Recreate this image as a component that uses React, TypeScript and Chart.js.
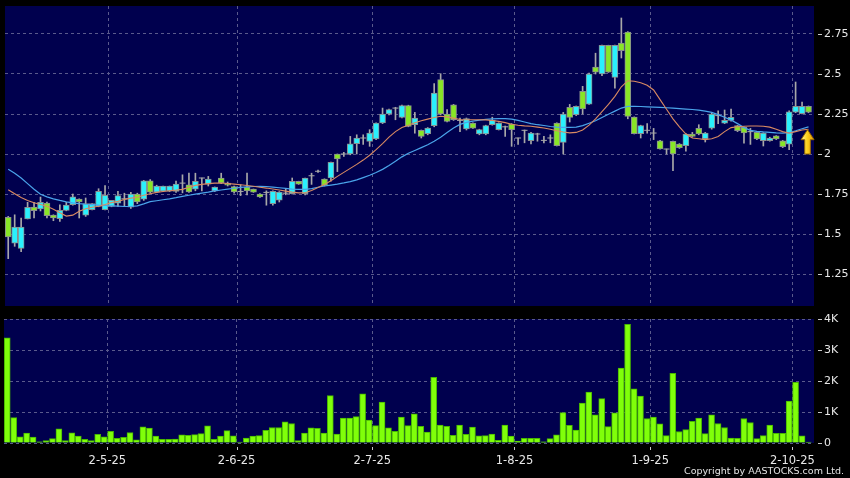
import React, { useEffect, useRef } from 'react';
import { Chart, registerables } from 'chart.js';

Chart.register(...registerables);

// ---------- data ----------
const monthLabels = ['2-5-25', '2-6-25', '2-7-25', '1-8-25', '1-9-25', '2-10-25'];
const monthStartIdx = [16, 36, 57, 79, 100, 122];
const priceTicks = [1.25, 1.5, 1.75, 2, 2.25, 2.5, 2.75];
const volumeTicks = [0, 1000, 2000, 3000, 4000];
const volumeTickLabels = ['0', '1K', '2K', '3K', '4K'];

const open = [
  1.604, 1.442, 1.41, 1.594, 1.669, 1.656, 1.694, 1.619, 1.596, 1.648,
  1.683, 1.719, 1.617, 1.652, 1.673, 1.652, 1.673, 1.692, 1.72, 1.668,
  1.75, 1.718, 1.833, 1.762, 1.768, 1.768, 1.766, 1.818, 1.808, 1.78,
  1.85, 1.812, 1.769, 1.85, 1.818, 1.796, 1.766, 1.794, 1.781, 1.75,
  1.76, 1.69, 1.712, 1.755, 1.752, 1.829, 1.752, 1.864, 1.892, 1.844,
  1.85, 2.0, 2.0, 2.0, 2.064, 2.1, 2.079, 2.094, 2.194, 2.25,
  2.287, 2.229, 2.302, 2.183, 2.148, 2.127, 2.177, 2.465, 2.25, 2.308,
  2.21, 2.156, 2.194, 2.125, 2.125, 2.183, 2.152, 2.17, 2.187, 2.1,
  2.148, 2.083, 2.125, 2.085, 2.1, 2.194, 2.073, 2.292, 2.246, 2.392,
  2.312, 2.544, 2.5, 2.679, 2.479, 2.694, 2.762, 2.231, 2.127, 2.148,
  2.131, 2.083, 2.031, 2.079, 2.062, 2.052, 2.125, 2.16, 2.096, 2.162,
  2.24, 2.193, 2.21, 2.177, 2.166, 2.14, 2.135, 2.083, 2.083, 2.114,
  2.083, 2.062, 2.262, 2.252, 2.298,
];
const close = [
  1.481, 1.544, 1.544, 1.667, 1.646, 1.698, 1.615, 1.6, 1.648, 1.681,
  1.733, 1.7, 1.69, 1.69, 1.767, 1.742, 1.71, 1.74, 1.72, 1.75,
  1.7, 1.833, 1.762, 1.8, 1.8, 1.8, 1.812, 1.818, 1.763, 1.829,
  1.85, 1.844, 1.794, 1.819, 1.805, 1.763, 1.766, 1.77, 1.762, 1.731,
  1.76, 1.767, 1.762, 1.755, 1.829, 1.812, 1.85, 1.864, 1.892, 1.804,
  1.948, 1.969, 2.0, 2.064, 2.1, 2.1, 2.131, 2.194, 2.25, 2.277,
  2.287, 2.302, 2.173, 2.225, 2.11, 2.162, 2.381, 2.25, 2.204, 2.214,
  2.21, 2.221, 2.162, 2.152, 2.177, 2.21, 2.194, 2.17, 2.152, 2.1,
  2.148, 2.131, 2.125, 2.085, 2.1, 2.052, 2.25, 2.229, 2.298, 2.281,
  2.5, 2.512, 2.679, 2.512, 2.679, 2.646, 2.235, 2.127, 2.177, 2.148,
  2.131, 2.031, 2.031, 2.0, 2.04, 2.125, 2.11, 2.125, 2.131, 2.25,
  2.24, 2.21, 2.229, 2.146, 2.131, 2.14, 2.094, 2.131, 2.1, 2.094,
  2.046, 2.264, 2.298, 2.298, 2.262,
];
const high = [
  1.61, 1.62, 1.6, 1.698, 1.698, 1.731, 1.7, 1.62, 1.683, 1.698,
  1.75, 1.72, 1.725, 1.69, 1.783, 1.802, 1.71, 1.767, 1.755, 1.76,
  1.755, 1.835, 1.84, 1.805, 1.8, 1.8, 1.83, 1.87, 1.88, 1.88,
  1.85, 1.86, 1.794, 1.88, 1.825, 1.8, 1.808, 1.88, 1.781, 1.752,
  1.77, 1.77, 1.765, 1.78, 1.85, 1.83, 1.85, 1.88, 1.9, 1.845,
  1.95, 2.0, 2.01, 2.11, 2.12, 2.12, 2.152, 2.195, 2.287, 2.28,
  2.292, 2.305, 2.305, 2.26, 2.15, 2.165, 2.44, 2.502, 2.277, 2.31,
  2.225, 2.225, 2.195, 2.155, 2.18, 2.23, 2.195, 2.175, 2.19, 2.1,
  2.15, 2.135, 2.13, 2.11, 2.12, 2.195, 2.26, 2.31, 2.3, 2.423,
  2.505, 2.63, 2.68, 2.68, 2.68, 2.85, 2.765, 2.232, 2.18, 2.19,
  2.16, 2.085, 2.031, 2.08, 2.065, 2.128, 2.135, 2.183, 2.135, 2.255,
  2.27, 2.275, 2.28, 2.18, 2.17, 2.16, 2.14, 2.133, 2.105, 2.115,
  2.085, 2.27, 2.45, 2.325, 2.3,
];
const low = [
  1.346, 1.423, 1.39, 1.594, 1.6, 1.644, 1.6, 1.583, 1.579, 1.645,
  1.68, 1.6, 1.61, 1.65, 1.67, 1.65, 1.67, 1.672, 1.672, 1.66,
  1.69, 1.71, 1.755, 1.76, 1.765, 1.765, 1.76, 1.757, 1.76, 1.77,
  1.77, 1.8, 1.765, 1.815, 1.8, 1.755, 1.74, 1.745, 1.76, 1.728,
  1.68, 1.68, 1.7, 1.745, 1.75, 1.81, 1.745, 1.81, 1.885, 1.8,
  1.83, 1.89, 1.985, 1.995, 2.0, 2.06, 2.048, 2.09, 2.19, 2.245,
  2.214, 2.225, 2.17, 2.13, 2.1, 2.12, 2.17, 2.245, 2.2, 2.21,
  2.14, 2.15, 2.16, 2.12, 2.12, 2.18, 2.15, 2.11, 2.048, 2.06,
  2.07, 2.063, 2.08, 2.07, 2.07, 2.05, 2.0, 2.2, 2.24, 2.25,
  2.31, 2.5, 2.49, 2.51, 2.412, 2.6, 2.22, 2.125, 2.1, 2.13,
  2.09, 2.03, 2.0, 1.896, 2.035, 2.017, 2.105, 2.12, 2.075, 2.155,
  2.19, 2.19, 2.205, 2.14, 2.068, 2.06, 2.09, 2.05, 2.08, 2.09,
  2.04, 2.027, 2.258, 2.25, 2.258,
];
const volume = [
  3390, 820, 200, 320, 190, 40, 80, 140, 460, 80,
  330, 220, 120, 80, 280, 200, 380, 150, 180, 340,
  100, 520, 480, 220, 120, 120, 130, 260, 250, 270,
  300, 550, 120, 220, 400, 230, 30, 160, 220, 240,
  410, 500, 500, 680, 630, 80, 320, 490, 470, 320,
  1530, 290, 800, 800, 850, 1590, 740, 560, 1320, 490,
  380, 840, 560, 940, 540, 350, 2120, 580, 540, 250,
  580, 280, 510, 230, 240, 290, 90, 580, 220, 60,
  150, 150, 150, 40, 140, 260, 980, 570, 420, 1290,
  1640, 910, 1430, 530, 970, 2420, 3830, 1750, 1510, 790,
  840, 620, 240, 2250, 370, 430, 700, 800, 300, 910,
  630, 500, 160, 150, 790, 660, 140, 240, 580, 310,
  310, 1350, 1960, 230, 30,
];
const maShort = [
  1.777, 1.752, 1.728, 1.71, 1.695, 1.684, 1.673, 1.655, 1.633, 1.612,
  1.618, 1.642, 1.658, 1.667, 1.673, 1.684, 1.696, 1.704, 1.716, 1.724,
  1.73, 1.742, 1.752, 1.76, 1.766, 1.77, 1.774, 1.779, 1.792, 1.804,
  1.81, 1.815, 1.818, 1.819, 1.816, 1.812, 1.808, 1.803, 1.798, 1.792,
  1.787, 1.781, 1.775, 1.768, 1.762, 1.757, 1.758, 1.772, 1.79, 1.81,
  1.833, 1.86, 1.885, 1.91, 1.935, 1.962, 1.992, 2.027, 2.065, 2.105,
  2.14, 2.165, 2.18, 2.195, 2.208, 2.218, 2.228, 2.236, 2.232, 2.224,
  2.216, 2.214, 2.214, 2.214, 2.213, 2.209, 2.204, 2.196, 2.186, 2.18,
  2.176, 2.173, 2.168, 2.162, 2.155, 2.145, 2.138, 2.132, 2.135, 2.15,
  2.18, 2.22, 2.265, 2.31, 2.36, 2.42, 2.458, 2.455, 2.445, 2.43,
  2.4, 2.34, 2.28, 2.22, 2.17, 2.125, 2.1, 2.095, 2.09, 2.095,
  2.11, 2.14, 2.165, 2.17, 2.173, 2.175, 2.175, 2.173, 2.168, 2.155,
  2.14, 2.13, 2.14, 2.15, 2.155,
];
const maLong = [
  1.905, 1.88, 1.85, 1.815, 1.78, 1.748, 1.732, 1.72, 1.71, 1.701,
  1.695, 1.69, 1.686, 1.683, 1.68, 1.678, 1.676, 1.674, 1.672, 1.672,
  1.676, 1.688, 1.702, 1.708, 1.714, 1.72, 1.727, 1.735, 1.742, 1.749,
  1.756, 1.762, 1.769, 1.775, 1.781, 1.786, 1.791, 1.795, 1.797, 1.798,
  1.797, 1.793, 1.789, 1.785, 1.781, 1.779, 1.779, 1.784, 1.792, 1.8,
  1.806, 1.812, 1.819, 1.827, 1.838, 1.852, 1.867, 1.884, 1.904, 1.928,
  1.954, 1.982, 2.005, 2.022, 2.04, 2.058, 2.08, 2.105, 2.135, 2.163,
  2.185, 2.198, 2.206, 2.212, 2.216, 2.219, 2.221, 2.221, 2.218, 2.21,
  2.2, 2.19, 2.183, 2.178, 2.172, 2.168, 2.166, 2.166, 2.168, 2.177,
  2.192, 2.208, 2.228, 2.248, 2.268, 2.287, 2.298, 2.298, 2.297, 2.295,
  2.293, 2.291, 2.289, 2.287, 2.284, 2.281, 2.278, 2.274, 2.268, 2.26,
  2.246, 2.23, 2.212, 2.19, 2.165, 2.148, 2.142, 2.138, 2.135, 2.132,
  2.131, 2.133, 2.145, 2.158, 2.17,
];
const arrowMark = { index: 123.85, top: 2.152, bottom: 2.0 };

// ---------- styles ----------
const NAVY = '#00004e';
const GRID = '#5a5a8c';
const TEXT = '#e8e8e8';
const UP = '#2af0fd';
const DOWN = '#88e626';
const BODY_BORDER = '#8a8f8f';
const WICK = '#a8a8a8';
const VOL_FILL = '#80ff0a';
const VOL_BORDER = '#48b800';
const MA_SHORT = '#d98a62';
const MA_LONG = '#4aa4ea';
const FONT = '"DejaVu Sans", Verdana, sans-serif';

const X_MIN = -0.5;
const X_MAX = 124.85;

const zeroPad = (s: any) => {
  s.paddingTop = 0;
  s.paddingBottom = 0;
  s.paddingLeft = 0;
  s.paddingRight = 0;
};

const panelBg = {
  id: 'panelBg',
  beforeDraw(chart: any) {
    const { ctx, chartArea: a } = chart;
    ctx.save();
    ctx.fillStyle = NAVY;
    ctx.fillRect(a.left, a.top, a.right - a.left, a.bottom - a.top);
    ctx.restore();
  },
};

const outerTicks = {
  id: 'outerTicks',
  defaults: { xTicks: false },
  afterDraw(chart: any, _args: any, opts: any) {
    const { ctx, chartArea: a } = chart;
    const y = chart.scales.y;
    ctx.save();
    ctx.strokeStyle = '#c8c8c8';
    ctx.lineWidth = 1;
    y.ticks.forEach((t: any) => {
      const py = Math.round(y.getPixelForValue(t.value)) + 0.5;
      ctx.beginPath();
      ctx.moveTo(a.right + 4, py);
      ctx.lineTo(a.right + 8, py);
      ctx.stroke();
    });
    if (opts && opts.xTicks) {
      const x = chart.scales.x;
      x.ticks.forEach((t: any) => {
        const px = Math.round(x.getPixelForValue(t.value)) + 0.5;
        ctx.beginPath();
        ctx.moveTo(px, a.bottom + 4);
        ctx.lineTo(px, a.bottom + 7);
        ctx.stroke();
      });
    }
    ctx.restore();
  },
};

const arrowPlugin = {
  id: 'arrowMark',
  afterDatasetsDraw(chart: any) {
    const { ctx } = chart;
    const x = chart.scales.x;
    const y = chart.scales.y;
    const cx = x.getPixelForValue(arrowMark.index);
    const top = y.getPixelForValue(arrowMark.top);
    const bot = y.getPixelForValue(arrowMark.bottom);
    const hw = 6.5;
    const sw = 2.8;
    const hh = 10;
    ctx.save();
    const g = ctx.createLinearGradient(cx - hw, 0, cx + hw, 0);
    g.addColorStop(0, '#fff4a0');
    g.addColorStop(0.45, '#ffd21e');
    g.addColorStop(1, '#e49a00');
    ctx.beginPath();
    ctx.moveTo(cx, top);
    ctx.lineTo(cx + hw, top + hh);
    ctx.lineTo(cx + sw, top + hh);
    ctx.lineTo(cx + sw, bot);
    ctx.lineTo(cx - sw, bot);
    ctx.lineTo(cx - sw, top + hh);
    ctx.lineTo(cx - hw, top + hh);
    ctx.closePath();
    ctx.fillStyle = g;
    ctx.fill();
    ctx.strokeStyle = '#9a6a00';
    ctx.lineWidth = 1;
    ctx.stroke();
    ctx.restore();
  },
};

const monthTickValues = monthStartIdx.map((i) => i - 0.5);

function xScale(showLabels: boolean, height: number): any {
  return {
    type: 'linear',
    min: X_MIN,
    max: X_MAX,
    offset: false,
    afterBuildTicks: (s: any) => {
      s.ticks = monthTickValues.map((v) => ({ value: v }));
    },
    afterFit: (s: any) => {
      s.height = height;
      zeroPad(s);
    },
    ticks: {
      display: showLabels,
      color: TEXT,
      font: { family: FONT, size: 11.5 },
      padding: 11,
      maxRotation: 0,
      autoSkip: false,
      callback: (_v: any, i: number) => monthLabels[i],
    },
    grid: { color: GRID, drawTicks: false, lineWidth: 1, offset: false },
    border: { display: false, dash: [3, 3] },
  };
}

function buildPriceConfig(): any {
  const idx = open.map((_, i) => i);
  const wickData = idx.map((i) => ({ x: i, y: [low[i], high[i]] }));
  const bodyData = idx.map((i) => ({ x: i, y: [open[i], close[i]] }));
  const bodyColors = idx.map((i) =>
    close[i] > open[i] ? UP : close[i] < open[i] ? DOWN : 'rgba(0,0,0,0)'
  );
  const bodyBorders = idx.map((i) => (close[i] === open[i] ? 'rgba(0,0,0,0)' : BODY_BORDER));
  const dojiData = idx.filter((i) => open[i] === close[i]).map((i) => ({ x: i, y: close[i] }));

  return {
    type: 'bar',
    data: {
      datasets: [
        {
          type: 'line',
          data: idx.map((i) => ({ x: i, y: maShort[i] })),
          borderColor: MA_SHORT,
          borderWidth: 1.1,
          pointRadius: 0,
          tension: 0,
          order: 0,
        },
        {
          type: 'line',
          data: idx.map((i) => ({ x: i, y: maLong[i] })),
          borderColor: MA_LONG,
          borderWidth: 1.2,
          pointRadius: 0,
          tension: 0,
          order: 0,
        },
        {
          type: 'line',
          data: dojiData,
          showLine: false,
          pointStyle: 'line',
          pointRadius: 3,
          borderColor: WICK,
          borderWidth: 1,
          order: 1,
        },
        {
          type: 'bar',
          data: bodyData,
          backgroundColor: bodyColors,
          borderColor: bodyBorders,
          borderWidth: 1,
          borderSkipped: false,
          barThickness: 6,
          grouped: false,
          order: 2,
        },
        {
          type: 'bar',
          data: wickData,
          backgroundColor: WICK,
          borderWidth: 0,
          barThickness: 1,
          grouped: false,
          order: 3,
        },
      ],
    },
    options: {
      responsive: false,
      animation: false,
      events: [],
      layout: { padding: { left: 4, top: 6, right: 0, bottom: 6 } },
      plugins: { legend: { display: false }, tooltip: { enabled: false } },
      scales: {
        x: xScale(false, 0),
        y: {
          position: 'right',
          min: 1.05,
          max: 2.925,
          afterBuildTicks: (s: any) => {
            s.ticks = priceTicks.map((v) => ({ value: v }));
          },
          afterFit: (s: any) => {
            s.width = 36;
            zeroPad(s);
          },
          ticks: {
            color: TEXT,
            font: { family: FONT, size: 11 },
            padding: 10,
            callback: (v: any) => String(v),
          },
          grid: { color: GRID, drawTicks: false, lineWidth: 1 },
          border: { display: false, dash: [3, 3] },
        },
      },
    },
    plugins: [panelBg, outerTicks, arrowPlugin],
  };
}

function buildVolumeConfig(): any {
  const idx = volume.map((_, i) => i);
  return {
    type: 'bar',
    data: {
      datasets: [
        {
          data: idx.map((i) => ({ x: i, y: volume[i] })),
          backgroundColor: VOL_FILL,
          borderColor: VOL_BORDER,
          borderWidth: 1,
          borderSkipped: 'start',
          barThickness: 6,
        },
      ],
    },
    options: {
      responsive: false,
      animation: false,
      events: [],
      layout: { padding: { left: 4, top: 6, right: 0, bottom: 0 } },
      plugins: { legend: { display: false }, tooltip: { enabled: false }, outerTicks: { xTicks: true } },
      scales: {
        x: xScale(true, 35),
        y: {
          position: 'right',
          min: 0,
          max: 4000,
          afterBuildTicks: (s: any) => {
            s.ticks = volumeTicks.map((v) => ({ value: v }));
          },
          afterFit: (s: any) => {
            s.width = 36;
            zeroPad(s);
          },
          ticks: {
            color: TEXT,
            font: { family: FONT, size: 11 },
            padding: 10,
            callback: (v: any) => volumeTickLabels[volumeTicks.indexOf(v)],
          },
          grid: { color: GRID, drawTicks: false, lineWidth: 1 },
          border: { display: false, dash: [3, 3] },
        },
      },
    },
    plugins: [panelBg, outerTicks],
  };
}

export default function App() {
  const priceRef = useRef<HTMLCanvasElement | null>(null);
  const volRef = useRef<HTMLCanvasElement | null>(null);

  useEffect(() => {
    document.body.style.margin = '0';
    document.body.style.background = '#000';
    const c1 = new Chart(priceRef.current as HTMLCanvasElement, buildPriceConfig());
    const c2 = new Chart(volRef.current as HTMLCanvasElement, buildVolumeConfig());
    return () => {
      c1.destroy();
      c2.destroy();
    };
  }, []);

  return (
    <div style={{ position: 'relative', width: 850, height: 478, background: '#000', overflow: 'hidden' }}>
      <canvas
        ref={priceRef}
        width={850}
        height={312}
        style={{ position: 'absolute', left: 0, top: 0, display: 'block' }}
      />
      <canvas
        ref={volRef}
        width={850}
        height={165}
        style={{ position: 'absolute', left: 0, top: 313, display: 'block' }}
      />
      <div
        style={{
          position: 'absolute',
          right: 6,
          top: 465,
          color: '#e4e4e4',
          font: '9.5px "DejaVu Sans", Verdana, sans-serif',
          lineHeight: '11px',
          whiteSpace: 'nowrap',
        }}
      >
        Copyright by AASTOCKS.com Ltd.
      </div>
    </div>
  );
}
